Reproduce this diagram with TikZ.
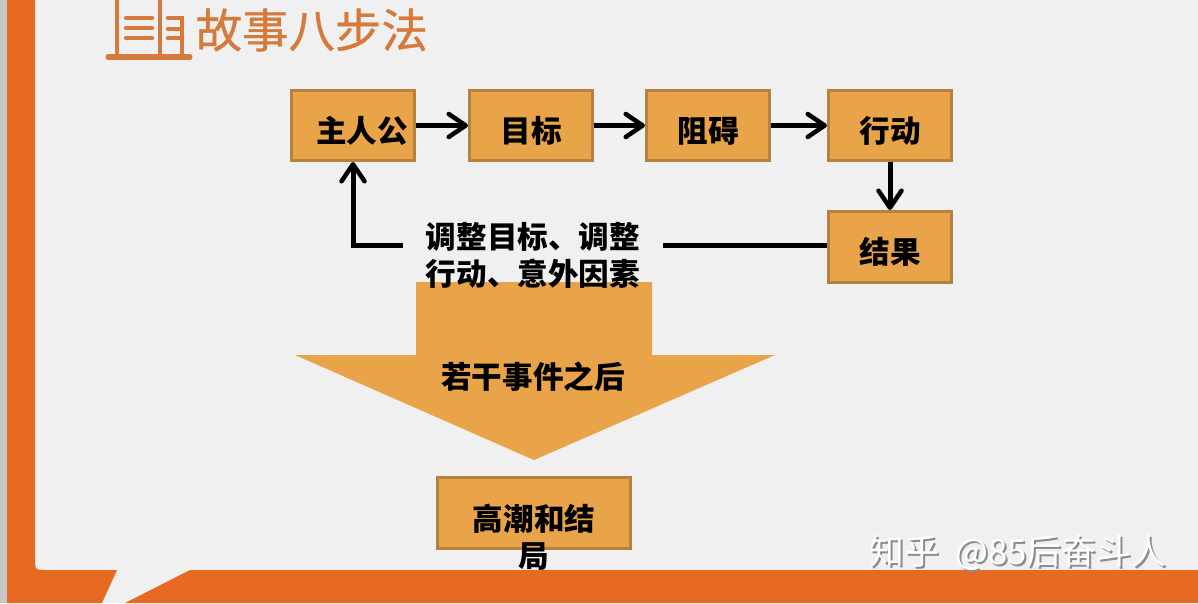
\documentclass[tikz,border=0pt]{standalone}
\usepackage{fontspec}
\usetikzlibrary{arrows.meta}
\newfontfamily\cjk{Noto Sans CJK SC}
\newfontfamily\cjktitle[FakeBold=0.8]{Noto Sans CJK SC}
\definecolor{pagegray}{HTML}{F0F0F0}
\definecolor{frameorange}{HTML}{E76A22}
\definecolor{titleorange}{HTML}{D67A3C}
\definecolor{boxfill}{HTML}{E9A449}
\definecolor{boxline}{HTML}{B5813F}
\tikzset{
  stepbox/.style={draw=boxline, line width=0.03cm, fill=boxfill, minimum width=1.23cm, minimum height=0.70cm, inner sep=0pt, text height=0.33cm, text depth=0pt, font=\cjk\fontsize{8.7pt}{10.4pt}\selectfont\bfseries},
  plaintext/.style={align=center, inner sep=0pt, font=\cjk\fontsize{8.7pt}{10.4pt}\selectfont\bfseries},
  flow/.style={line width=0.05cm, black},
  flowarrow/.style={flow, -{Straight Barb[length=0.17cm,width=0.23cm,line width=0.045cm,round]}},
  iconline/.style={titleorange, line width=0.045cm, line cap=round}
}
\begin{document}
\begin{tikzpicture}[x=0.01cm, y=-0.01cm]
\useasboundingbox (0,0) rectangle (1198,603);
% page and frame
\fill[pagegray] (0,0) rectangle (1198,603);
\fill[black!22] (0,0) rectangle (7,603);
\fill[frameorange] (7,0) -- (35,0) -- (35,558) .. controls (35,570) and (35,570) .. (47,570) -- (117,570) -- (102,603) -- (7,603) -- cycle;
\fill[frameorange] (125,603) -- (190,570) -- (1198,570) -- (1198,603) -- cycle;

% title and its icon
\draw[iconline, line width=0.05cm] (108,57) -- (190,57);
\draw[iconline] (117,0) -- (117,57);
\draw[iconline] (160,0) -- (160,57);
\draw[iconline] (168,18) -- (182,18) -- (182,57);
\foreach \y in {18,28,38} \draw[iconline] (126,\y) -- (152,\y);
\draw[iconline] (168,29) -- (180,29);
\draw[iconline] (168,38) -- (180,38);
\node[anchor=west, inner sep=0pt, text=titleorange, font=\cjktitle\fontsize{13.2pt}{15pt}\selectfont] (title) at (195,30) {故事八步法};

% top row
\node[stepbox] (hero) at (353,125.5) {\hspace*{0.18cm}主人公};
\node[stepbox] (goal) at (531,125.5) {目标};
\node[stepbox] (block) at (708,125.5) {阻碍};
\node[stepbox] (act) at (890,125.5) {行动};
\node[stepbox, minimum height=0.71cm] (result) at (890,247) {结果};

\draw[flowarrow] (hero) -- (goal);
\draw[flowarrow] (goal) -- (block);
\draw[flowarrow] (block) -- (act);
\draw[flowarrow] (act) -- (result);

% big arrow first, the label sits over it
\fill[boxfill] (416,282) -- (652,282) -- (652,355) -- (775,355) -- (534,460) -- (295,355) -- (416,355) -- cycle;
\node[plaintext, text width=2.16cm] (change) at (533,255.5) {调整目标、调整\\行动、意外因素};
\coordinate (feedstart) at (663,245);
\coordinate (backstart) at (403,245);
\draw[flow] (result.west |- feedstart) -- (feedstart);
\draw[flowarrow] (backstart) -| (hero.south);
\node[plaintext] (after) at (533,377) {若干事件之后};

% bottom box, its text runs out below
\node[stepbox, minimum width=1.93cm, minimum height=0.71cm] (endbox) at (534,513) {};
\node[plaintext, text width=1.22cm] (endtext) at (534,537) {高潮和结\\局};

% watermark
\node[inner sep=0pt, text=black!45, font=\cjk\fontsize{9.9pt}{12pt}\selectfont] (markshadow) at (1020,555) {知乎\ \ @85后奋斗人};
\node[inner sep=0pt, text=white, font=\cjk\fontsize{9.9pt}{12pt}\selectfont] (mark) at (1018,553) {知乎\ \ @85后奋斗人};
\end{tikzpicture}
\end{document}
